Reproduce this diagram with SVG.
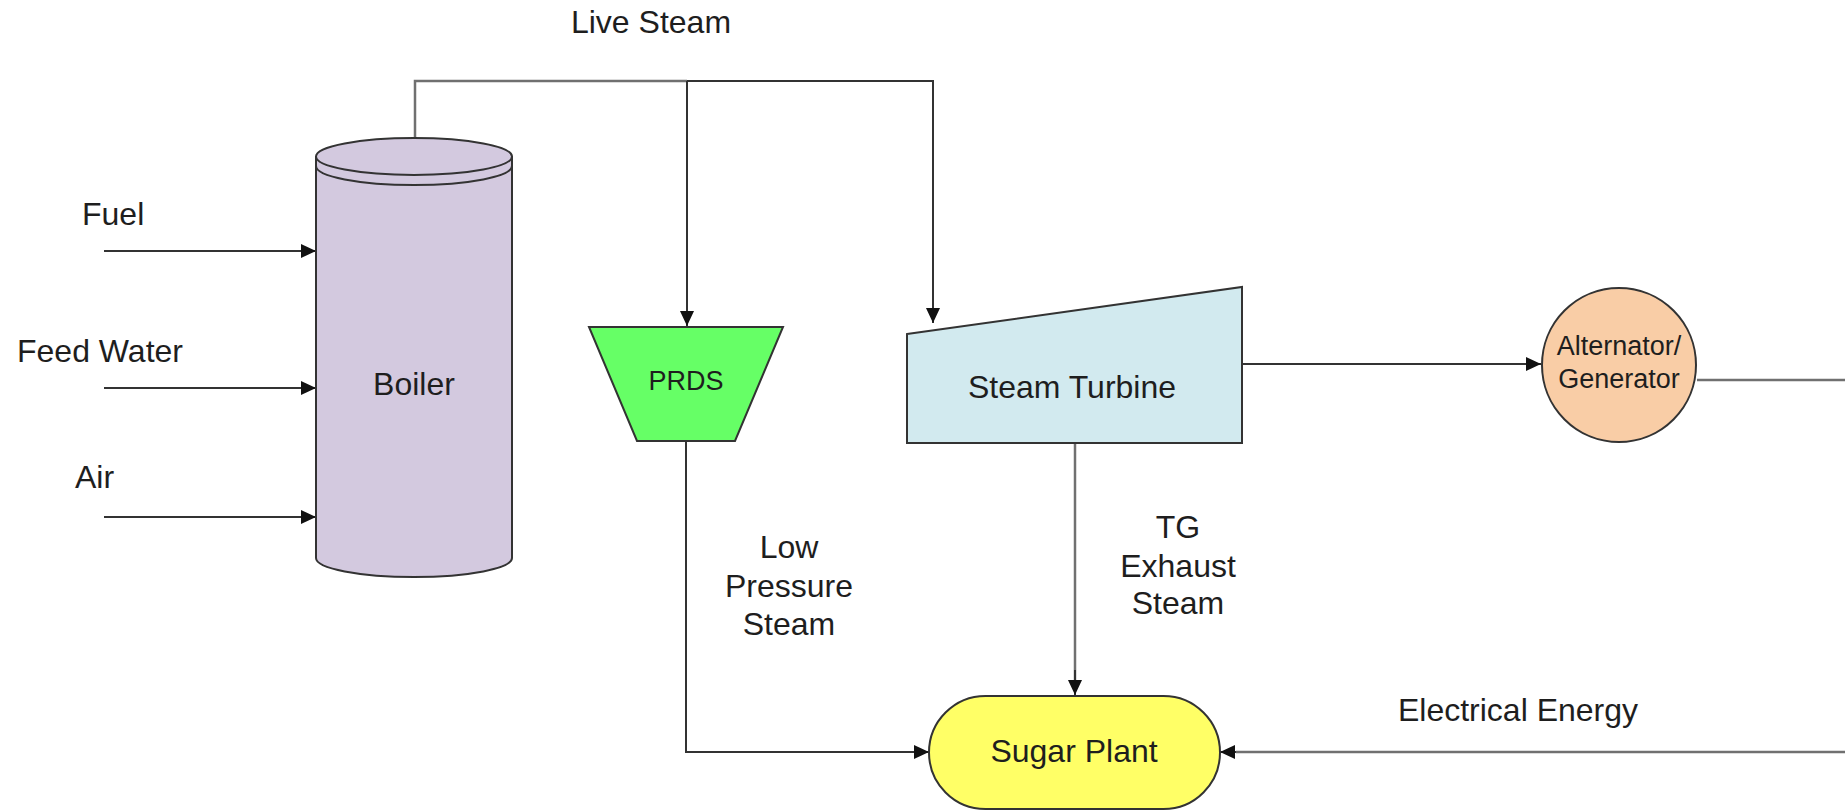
<svg xmlns="http://www.w3.org/2000/svg" width="1845" height="811" viewBox="0 0 1845 811">
<style>
text{font-family:"Liberation Sans",Arial,sans-serif;fill:#1e1e1e;}
.lbl{font-size:32px;}
.mid{text-anchor:middle;}
.shape{stroke:#333;stroke-width:2;}
.con{fill:none;stroke:#333;stroke-width:2;}
.grey{fill:none;stroke:#707070;stroke-width:2.5;}
</style>
<defs>
<marker id="arr" markerUnits="userSpaceOnUse" markerWidth="16" markerHeight="16" refX="15" refY="7" orient="auto">
<path d="M0,0 L15,7 L0,14 Z" fill="#111"/>
</marker>
</defs>
<rect width="1845" height="811" fill="#fff"/>

<g id="connectors">
<path class="grey" d="M415,138 V81 H687"/>
<path class="con" d="M687,81 H933 V323" marker-end="url(#arr)"/>
<path class="con" d="M687,81 V326" marker-end="url(#arr)"/>
<path class="con" d="M104,251 H316" marker-end="url(#arr)"/>
<path class="con" d="M104,388 H316" marker-end="url(#arr)"/>
<path class="con" d="M104,517 H316" marker-end="url(#arr)"/>
<path class="con" d="M1242,364 H1541" marker-end="url(#arr)"/>
<path class="grey" d="M1697,380 H1845"/>
<path class="grey" d="M1845,752 H1236"/>
<path class="con" d="M1236,752 H1220" marker-end="url(#arr)"/>
<path class="con" d="M686,441 V752 H929" marker-end="url(#arr)"/>
<path class="grey" d="M1075,443 V680"/>
<path class="con" d="M1075,670 V695" marker-end="url(#arr)"/>
</g>

<g id="boiler">
<path class="shape" fill="#d3c9df" d="M316,157 V558 A98,19 0 0 0 512,558 V157 Z"/>
<ellipse class="shape" fill="#d3c9df" cx="414" cy="156.5" rx="98" ry="18.5"/>
<path class="shape" fill="none" d="M316,166 A98,19 0 0 0 512,166"/>
<text class="lbl mid" x="414" y="395">Boiler</text>
</g>

<g id="prds">
<polygon class="shape" fill="#66ff66" points="589,327 783,327 735,441 637,441"/>
<text class="mid" x="686" y="390" font-size="27">PRDS</text>
</g>

<g id="turbine">
<polygon class="shape" fill="#d2eaef" points="907,334 1242,287 1242,443 907,443"/>
<text class="lbl mid" x="1072" y="398">Steam Turbine</text>
</g>

<g id="alternator">
<circle class="shape" fill="#f9cda6" cx="1619" cy="365" r="77"/>
<text class="mid" x="1619" y="355" font-size="27">Alternator/</text>
<text class="mid" x="1619" y="388" font-size="27">Generator</text>
</g>

<g id="sugar-plant">
<rect class="shape" fill="#ffff66" x="929" y="696" width="291" height="113" rx="56.5" ry="56.5"/>
<text class="lbl mid" x="1074" y="762">Sugar Plant</text>
</g>

<g id="labels">
<text class="lbl mid" x="651" y="33">Live Steam</text>
<text class="lbl" x="82" y="225">Fuel</text>
<text class="lbl" x="17" y="362">Feed Water</text>
<text class="lbl" x="75" y="488">Air</text>
<text class="lbl mid" x="789" y="558">Low</text>
<text class="lbl mid" x="789" y="597">Pressure</text>
<text class="lbl mid" x="789" y="635">Steam</text>
<text class="lbl mid" x="1178" y="538">TG</text>
<text class="lbl mid" x="1178" y="577">Exhaust</text>
<text class="lbl mid" x="1178" y="614">Steam</text>
<text class="lbl mid" x="1518" y="721">Electrical Energy</text>
</g>
</svg>
